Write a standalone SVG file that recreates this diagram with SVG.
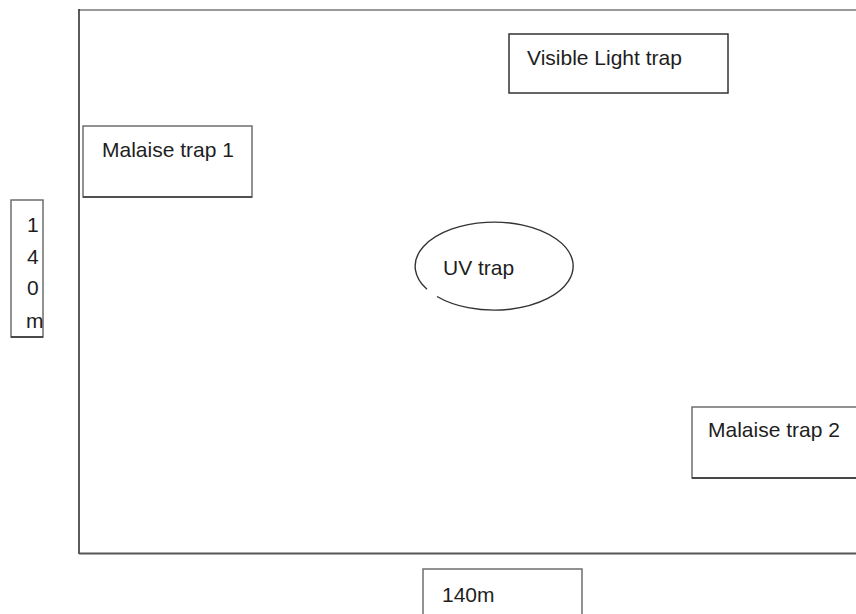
<svg xmlns="http://www.w3.org/2000/svg" width="856" height="614" viewBox="0 0 856 614">
  <style>
    .t { font-family: "Liberation Sans", Arial, sans-serif; font-size: 21px; fill: #1e1e1e; }
    .box { fill: #ffffff; stroke: #6e6e6e; stroke-width: 1.5; }
    .dark { stroke: #333333; }
  </style>
  <defs>
    <clipPath id="clipLeft">
      <rect x="11" y="200" width="32" height="137"/>
    </clipPath>
  </defs>
  <rect width="856" height="614" fill="#ffffff"/>

  <g id="field">
    <line x1="79" y1="10" x2="856" y2="10" stroke="#9a9a9a" stroke-width="2"/>
    <line x1="79" y1="9" x2="79" y2="554" stroke="#333333" stroke-width="1.6"/>
    <line x1="79" y1="553.5" x2="856" y2="553.5" stroke="#555555" stroke-width="2"/>
  </g>

  <g id="connectors"></g>

  <g id="malaise1">
    <rect class="box" x="83" y="126" width="169" height="71"/>
    <line x1="83" y1="197" x2="252" y2="197" stroke="#3a3a3a" stroke-width="1.5"/>
    <text class="t" x="102" y="157">Malaise trap 1</text>
  </g>

  <g id="visible-light">
    <rect class="box dark" x="509" y="34" width="219" height="59"/>
    <text class="t" x="527" y="65">Visible Light trap</text>
  </g>

  <g id="uv-trap">
    <path d="M 427 289.3 A 79 44 0 1 1 437 296.5" fill="none" stroke="#333333" stroke-width="1.4"/>
    <text class="t" x="443" y="275">UV trap</text>
  </g>

  <g id="malaise2">
    <rect class="box" x="692" y="407" width="170" height="71"/>
    <line x1="692" y1="478" x2="856" y2="478" stroke="#2e2e2e" stroke-width="1.5"/>
    <text class="t" x="708" y="437">Malaise trap 2</text>
  </g>

  <g id="height-label">
    <rect class="box" x="11" y="200" width="32" height="137"/>
    <line x1="11" y1="337" x2="43" y2="337" stroke="#333333" stroke-width="1.5"/>
    <g clip-path="url(#clipLeft)">
      <text class="t" x="27" y="232">1</text>
      <text class="t" x="27" y="264">4</text>
      <text class="t" x="27" y="295">0</text>
      <text class="t" x="26" y="328" font-size="17">m</text>
    </g>
  </g>

  <g id="width-label">
    <rect class="box" x="423" y="569" width="159" height="60" stroke="#444444"/>
    <text class="t" x="442" y="602">140m</text>
  </g>
</svg>
